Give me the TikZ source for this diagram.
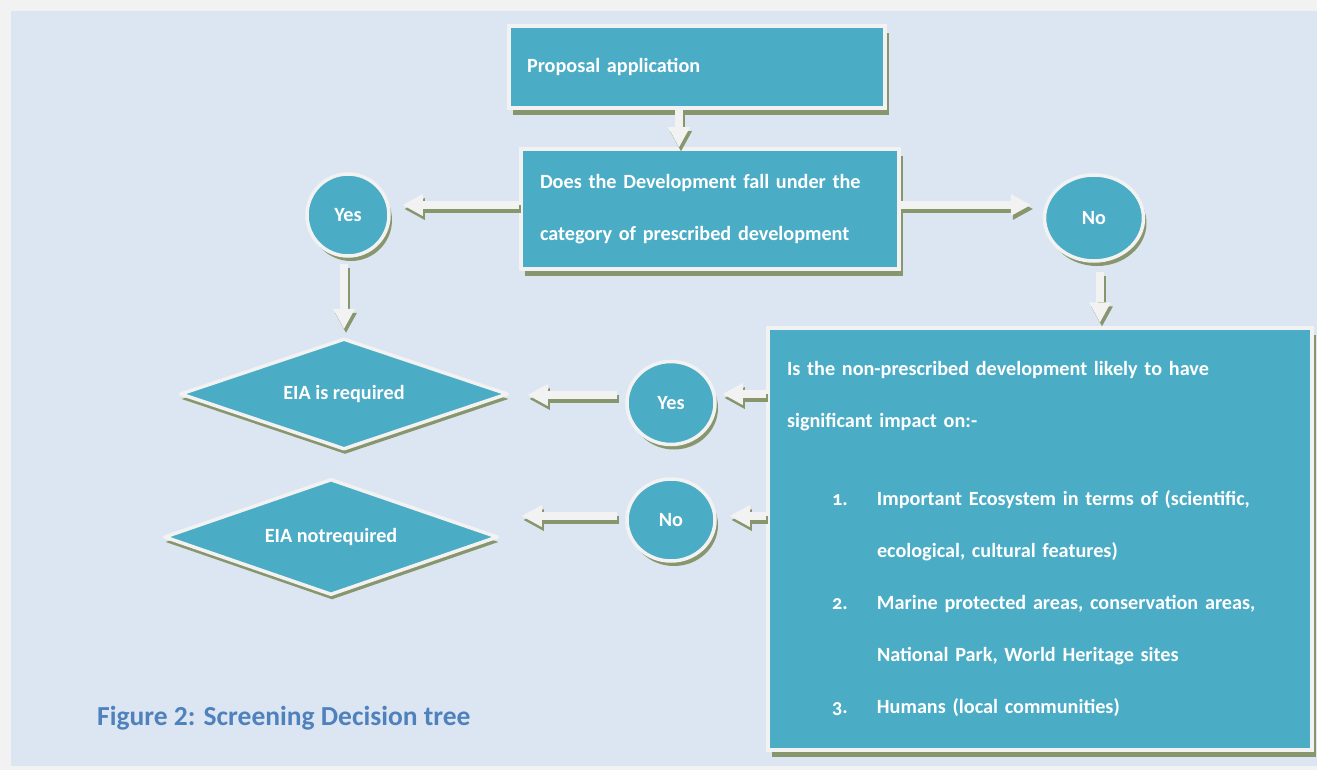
\documentclass[tikz,border=0pt]{standalone}
\usepackage{fontspec}
\setmainfont{Carlito}
\usetikzlibrary{arrows.meta,shapes.geometric,shadows,calc}

\definecolor{boxteal}{RGB}{75,172,198}
\definecolor{boxrim}{RGB}{242,242,242}
\definecolor{shadowgreen}{RGB}{136,150,110}
\definecolor{pageblue}{RGB}{220,230,242}
\definecolor{captionblue}{RGB}{79,129,189}

\newcommand{\blockarr}[2]{%
  \draw[arrshade] ([shift={(2,4)}]#1) -- ([shift={(2,4)}]#2);
  \draw[arrbody] (#1) -- (#2);}
\newcommand{\oldnum}[1]{{\addfontfeatures{Numbers=OldStyle}#1}}

\tikzset{
  box/.style={rectangle, fill=boxteal, draw=boxrim, line width=3.5pt, text=white,
    font=\bfseries\fontsize{20.2}{52}\selectfont, align=left, inner xsep=18pt,
    drop shadow={shadow xshift=4pt, shadow yshift=-7pt, fill=shadowgreen, opacity=1}},
  disc/.style={ellipse, fill=boxteal, draw=boxrim, line width=3.5pt, text=white,
    font=\bfseries\fontsize{20.2}{24}\selectfont, inner sep=0pt,
    drop shadow={shadow xshift=3pt, shadow yshift=-5pt, fill=shadowgreen, opacity=1}},
  decision/.style={diamond, aspect=3, fill=boxteal, draw=boxrim, line width=3.5pt, line join=round,
    text=white, font=\bfseries\fontsize{20.2}{24}\selectfont, inner sep=0pt,
    drop shadow={shadow xshift=1pt, shadow yshift=-5pt, fill=shadowgreen, opacity=1}},
  arrbody/.style={draw=boxrim, line width=8pt, -{Triangle[width=22pt,length=20pt,line width=0pt]}},
  arrshade/.style={draw=shadowgreen, line width=8pt, -{Triangle[width=22pt,length=20pt,line width=0pt]}}
}

\begin{document}
\begin{tikzpicture}[x=1pt,y=-1pt]

% page
\useasboundingbox (0,0) rectangle (1317,770);
\fill[boxrim] (0,0) rectangle (1317,770);
\fill[pageblue] (11,11) rectangle (1317,766);

% boxes
\node[box, minimum width=376pt, minimum height=82pt, text width=340pt] (prop) at (697,67) {Proposal application};
\node[box, minimum width=378pt, minimum height=120pt, text width=340pt, inner xsep=19pt] (q) at (710,209)
  {Does the Development fall under the\\ category of prescribed development};
\node[box, minimum width=544pt, minimum height=422pt, text width=506pt, inner xsep=19pt] (big) at (1040,539)
  {Is the non-prescribed development likely to have\\
   significant impact on:-\\[26pt]
   \hspace*{45pt}\makebox[45pt][l]{\oldnum{1.}}Important Ecosystem in terms of (scientific,\\
   \hspace*{90pt}ecological, cultural features)\\
   \hspace*{45pt}\makebox[45pt][l]{\oldnum{2.}}Marine protected areas, conservation areas,\\
   \hspace*{90pt}National Park, World Heritage sites\\
   \hspace*{45pt}\makebox[45pt][l]{\oldnum{3.}}Humans (local communities)\\[12pt]};

% answers
\node[disc, minimum width=82pt, minimum height=82pt] (yes1) at (348,215) {Yes};
\node[disc, minimum width=99pt, minimum height=86pt] (no1) at (1094,218) {No};
\node[disc, minimum width=88pt, minimum height=83pt] (yes2) at (671,403) {Yes};
\node[disc, minimum width=88pt, minimum height=82pt] (no2) at (671,520) {No};

% outcomes
\node[decision, minimum width=328pt, minimum height=111pt] (eia1) at (344,394) {EIA is required};
\node[decision, minimum width=334pt, minimum height=116pt] (eia2) at (331,537) {EIA notrequired};

% arrow ends
\coordinate (a1s) at ([xshift=-18pt]prop.south);
\coordinate (a1e) at (a1s |- q.north);
\coordinate (a2s) at ([yshift=4pt]q.west);
\coordinate (a2e) at ($(a2s -| yes1.east)+(12,0)$);
\coordinate (a3s) at ([yshift=4pt]q.east);
\coordinate (a3e) at ($(a3s -| no1.west)+(-12,0)$);
\coordinate (a4s) at ($(yes1.south)+(-4,6)$);
\coordinate (a4e) at ($(a4s |- eia1.north)+(0,-8)$);
\coordinate (a5s) at ($(no1.south)+(6,9)$);
\coordinate (a5e) at ($(a5s |- big.north)+(0,-4)$);
\coordinate (a6s) at ($(big.west |- yes2.east)+(0,-9)$);
\coordinate (a6e) at ($(a6s -| yes2.east)+(6,0)$);
\coordinate (a7s) at ($(yes2.west)+(-8,-8)$);
\coordinate (a7e) at ($(a7s -| eia1.east)+(18,0)$);
\coordinate (a8s) at ($(big.west |- no2.east)+(0,-4)$);
\coordinate (a8e) at ($(a8s -| no2.east)+(13,0)$);
\coordinate (a9s) at ($(no2.west)+(-8,-4)$);
\coordinate (a9e) at ($(a9s -| eia2.east)+(22,0)$);

% block arrows
\blockarr{a1s}{a1e}
\blockarr{a2s}{a2e}
\blockarr{a3s}{a3e}
\blockarr{a4s}{a4e}
\blockarr{a5s}{a5e}
\blockarr{a6s}{a6e}
\blockarr{a7s}{a7e}
\blockarr{a8s}{a8e}
\blockarr{a9s}{a9e}

% caption
\node[anchor=west, inner sep=0pt, text=captionblue, font=\bfseries\fontsize{27.5}{33}\selectfont] (cap) at (97,718)
  {Figure 2: Screening Decision tree};

\end{tikzpicture}
\end{document}
